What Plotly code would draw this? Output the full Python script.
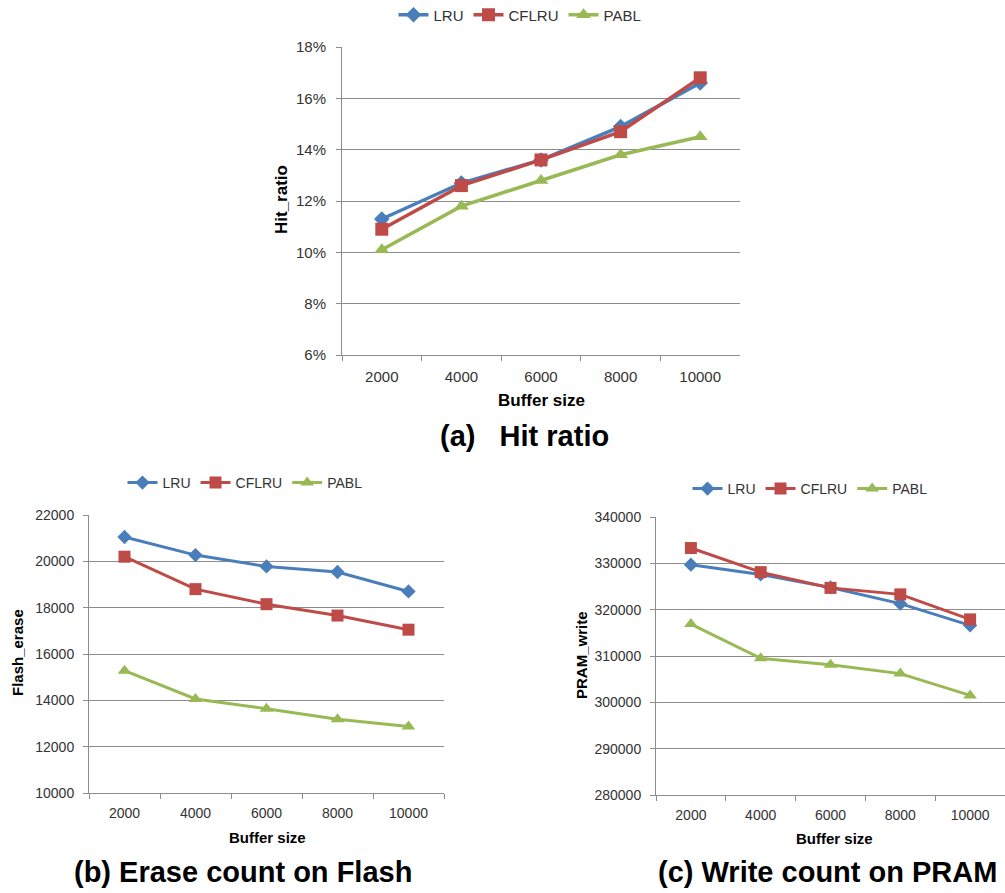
import plotly.graph_objects as go

buffer_sizes = ["2000", "4000", "6000", "8000", "10000"]
series_names = ["LRU", "CFLRU", "PABL"]

hit_lru = [11.3, 12.7, 13.6, 14.9, 16.6]
hit_cflru = [10.9, 12.6, 13.6, 14.7, 16.8]
hit_pabl = [10.1, 11.8, 12.8, 13.8, 14.5]

erase_lru = [21050, 20270, 19780, 19540, 18700]
erase_cflru = [20200, 18800, 18150, 17660, 17050]
erase_pabl = [15280, 14060, 13640, 13180, 12870]

write_lru = [329700, 327600, 324800, 321300, 316600]
write_cflru = [333300, 328100, 324700, 323300, 317900]
write_pabl = [316900, 309500, 308100, 306200, 301500]

colors = {"LRU": "#4A7EBB", "CFLRU": "#BE4B48", "PABL": "#98B954"}
symbols = {"LRU": "diamond", "CFLRU": "square", "PABL": "triangle-up"}
msize_top = {"LRU": 12, "CFLRU": 13, "PABL": 13}
msize_bot = {"LRU": 11, "CFLRU": 12, "PABL": 12}

W, H = 1005, 893
def px(x):
    return x / W
def py(y):
    return (H - y) / H

fig = go.Figure()

panels = [
    dict(ax="", data=[hit_lru, hit_cflru, hit_pabl], legend="legend", ms=msize_top, lw=3.5),
    dict(ax="2", data=[erase_lru, erase_cflru, erase_pabl], legend="legend2", ms=msize_bot, lw=3),
    dict(ax="3", data=[write_lru, write_cflru, write_pabl], legend="legend3", ms=msize_bot, lw=3),
]

for p in panels:
    for name, vals in zip(series_names, p["data"]):
        fig.add_trace(go.Scatter(
            x=buffer_sizes, y=vals, name=name, mode="lines+markers",
            line=dict(color=colors[name], width=p["lw"]),
            marker=dict(symbol=symbols[name], size=p["ms"][name], color=colors[name]),
            xaxis="x" + p["ax"], yaxis="y" + p["ax"], legend=p["legend"],
        ))

grid = "#8C8C8C"
FAM = "Liberation Sans, Arial"
tickfont_top = dict(family=FAM, size=15, color="#333333")
tickfont_bot = dict(family=FAM, size=14, color="#333333")

def xaxis(domain, anchor, tf, standoff):
    return dict(domain=domain, anchor=anchor, type="category", range=[-0.5, 4.5],
                tickson="boundaries", ticks="outside", ticklen=5, tickcolor=grid,
                showline=True, linecolor=grid, linewidth=1, showgrid=False,
                tickfont=tf, fixedrange=True, automargin=False,
                ticklabelstandoff=standoff)

def yaxis(domain, anchor, rng, dtick, tf, standoff, suffix="", fmt=""):
    return dict(domain=domain, anchor=anchor, range=rng, dtick=dtick,
                ticks="outside", ticklen=5, tickcolor=grid, showline=True,
                linecolor=grid, linewidth=1, showgrid=True, gridcolor=grid,
                gridwidth=1, tickfont=tf, ticksuffix=suffix, tickformat=fmt,
                zeroline=False, fixedrange=True, automargin=False,
                ticklabelstandoff=standoff)

legfont_top = dict(family=FAM, size=15, color="#333333")
legfont_bot = dict(family=FAM, size=14, color="#333333")

fig.update_layout(
    width=W, height=H, margin=dict(l=0, r=0, t=0, b=0, autoexpand=False),
    paper_bgcolor="white", plot_bgcolor="white",
    xaxis=xaxis([px(342), px(740)], "y", tickfont_top, 8),
    yaxis=yaxis([py(355), py(47)], "x", [6, 18], 2, tickfont_top, 7, suffix="%"),
    xaxis2=xaxis([px(89), px(444)], "y2", tickfont_bot, 7),
    yaxis2=yaxis([py(793), py(515)], "x2", [10000, 22000], 2000, tickfont_bot, 6, fmt="d"),
    xaxis3=xaxis([px(656), 1.0], "y3", tickfont_bot, 7),
    yaxis3=yaxis([py(795), py(517)], "x3", [280000, 340000], 10000, tickfont_bot, 6, fmt="d"),
    legend=dict(orientation="h", x=px(520), y=py(15), xanchor="center", yanchor="middle",
                font=legfont_top, bgcolor="rgba(0,0,0,0)", itemclick=False),
    legend2=dict(orientation="h", x=px(245), y=py(483), xanchor="center", yanchor="middle",
                 font=legfont_bot, bgcolor="rgba(0,0,0,0)", itemclick=False),
    legend3=dict(orientation="h", x=px(810), y=py(489), xanchor="center", yanchor="middle",
                 font=legfont_bot, bgcolor="rgba(0,0,0,0)", itemclick=False),
    showlegend=True,
)

ann_font = dict(family=FAM, color="black")
annotations = [
    dict(text="<b>Buffer size</b>", x=px(541), y=py(401), size=17),
    dict(text="<b>Buffer size</b>", x=px(267), y=py(837), size=15),
    dict(text="<b>Buffer size</b>", x=px(834), y=py(838), size=15),
    dict(text="<b>Hit_ratio</b>", x=px(281), y=py(200), size=17, angle=-90),
    dict(text="<b>Flash_erase</b>", x=px(17), y=py(653), size=15, angle=-90),
    dict(text="<b>PRAM_write</b>", x=px(581), y=py(655), size=15, angle=-90),
    dict(text="<b>(a)   Hit ratio</b>", x=px(524), y=py(436), size=29),
    dict(text="<b>(b) Erase count on Flash</b>", x=px(243), y=py(872), size=29),
    dict(text="<b>(c) Write count on PRAM</b>", x=px(827), y=py(872), size=29),
]
for a in annotations:
    fig.add_annotation(text=a["text"], x=a["x"], y=a["y"], xref="paper", yref="paper",
                       showarrow=False, xanchor="center", yanchor="middle",
                       textangle=a.get("angle", 0),
                       font=dict(size=a["size"], **ann_font))

fig.write_html(
    "out.html",
    config={"displayModeBar": False},
    post_script="document.body.style.margin='0px';document.body.style.padding='0px';document.body.style.overflow='hidden';",
)
